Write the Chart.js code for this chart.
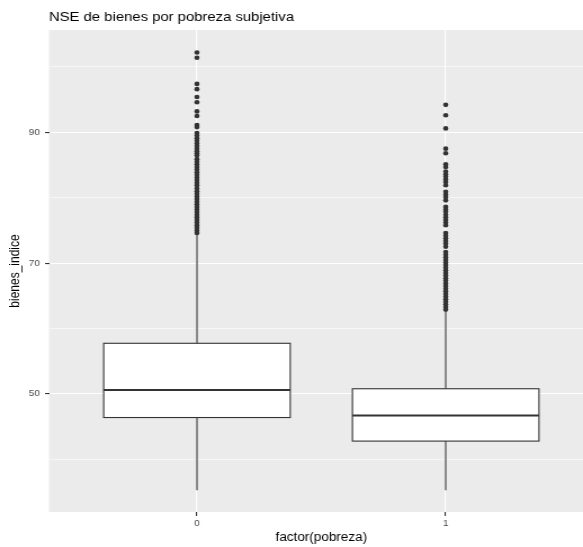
<!DOCTYPE html>
<html>
<head>
<meta charset="utf-8">
<script src="https://cdn.jsdelivr.net/npm/chart.js@4.4.1/dist/chart.umd.min.js"></script>
<style>
body { margin: 0; background: #fff; overflow: hidden; }
/* la imagen original esta algo estirada en horizontal */
#lienzo { width: 518px; height: 547px; transform: scaleX(1.12548); transform-origin: 0 0; }
</style>
</head>
<body>
<div id="lienzo"><canvas id="boxplot" width="518" height="547"></canvas></div>
<script>
var categorias = ["0", "1"]
var q1 = [46.4, 42.8]
var mediana = [50.6, 46.7]
var q3 = [57.75, 50.8]
var bigoteInf = [35.3, 35.3]
var bigoteSup = [74.6, 62.8]

var atipicos0 = [102.2, 101.4, 97.4, 96.6, 95.4, 94.6, 93.2, 92.5, 91.1, 90.8,
  89.9, 89.5, 89.1, 88.7, 88.3, 87.9, 87.5, 87.1, 86.8, 86.5,
  85.9, 85.5, 85.1, 84.7, 84.3, 83.9, 83.5, 83.1, 82.7, 82.3, 81.9,
  81.4, 81.0, 80.6, 80.2, 79.8, 79.4, 79.0, 78.6, 78.2, 77.8, 77.4, 77.0, 76.6, 76.2, 75.8, 75.4, 75.0, 74.6]
var atipicos1 = [94.2, 92.6, 90.6, 87.5, 86.8, 85.1, 84.7,
  84.0, 83.6, 83.2, 82.8, 82.4, 81.9,
  80.9, 80.5, 80.1, 79.6,
  78.6, 78.2, 77.9,
  77.4, 77.0, 76.6, 76.2, 75.8,
  74.6, 74.2, 73.8, 73.4, 73.0, 72.5,
  71.7, 71.3, 70.9, 70.5, 70.1, 69.7, 69.3, 68.9, 68.5, 68.1, 67.7, 67.3, 66.9, 66.5,
  66.1, 65.7, 65.3, 64.9, 64.5, 64.1, 63.7, 63.3, 62.9]

var ticksY = [40, 50, 60, 70, 80, 90, 100]
var ticksYMayores = [50, 70, 90]

var fuente = 'Liberation Sans'

function esMayor(ctx) {
  return ctx.tick && ticksYMayores.indexOf(ctx.tick.value) >= 0
}

// fondo gris del panel
var fondoPanel = {
  id: 'fondoPanel',
  beforeDraw: function (chart) {
    var a = chart.chartArea
    var ctx = chart.ctx
    ctx.save()
    ctx.fillStyle = '#EBEBEB'
    ctx.fillRect(a.left, a.top, a.right - a.left, a.bottom - a.top)
    ctx.restore()
  }
}

// cajas, bigotes y medianas
var cajas = {
  id: 'cajas',
  beforeDatasetsDraw: function (chart) {
    var x = chart.scales.x
    var y = chart.scales.y
    var ctx = chart.ctx
    ctx.save()
    for (var i = 0; i < categorias.length; i++) {
      var cx = x.getPixelForValue(i)
      var izq = x.getPixelForValue(i - 0.375)
      var der = x.getPixelForValue(i + 0.375)
      var arriba = y.getPixelForValue(q3[i])
      var abajo = y.getPixelForValue(q1[i])
      ctx.strokeStyle = '#333333'
      ctx.lineWidth = 1.1
      ctx.beginPath()
      ctx.moveTo(cx, arriba)
      ctx.lineTo(cx, y.getPixelForValue(bigoteSup[i]))
      ctx.moveTo(cx, abajo)
      ctx.lineTo(cx, y.getPixelForValue(bigoteInf[i]))
      ctx.stroke()
      ctx.fillStyle = '#FFFFFF'
      ctx.fillRect(izq, arriba, der - izq, abajo - arriba)
      ctx.strokeRect(izq, arriba, der - izq, abajo - arriba)
      var m = y.getPixelForValue(mediana[i])
      ctx.lineWidth = 2.1
      ctx.beginPath()
      ctx.moveTo(izq, m)
      ctx.lineTo(der, m)
      ctx.stroke()
    }
    ctx.restore()
  }
}

// titulo del grafico y titulo del eje x (centrado entre las dos categorias, como ggplot)
var textos = {
  id: 'textos',
  afterDraw: function (chart) {
    var ctx = chart.ctx
    ctx.save()
    ctx.fillStyle = '#000000'
    ctx.textAlign = 'left'
    ctx.textBaseline = 'alphabetic'
    ctx.font = '13.2px "' + fuente + '", Arial, sans-serif'
    ctx.fillText('NSE de bienes por pobreza subjetiva', chart.chartArea.left, 21)
    ctx.textAlign = 'center'
    ctx.textBaseline = 'middle'
    ctx.font = '12px "' + fuente + '", Arial, sans-serif'
    ctx.fillText('factor(pobreza)', chart.scales.x.getPixelForValue(0.5), 537.5)
    ctx.restore()
  }
}

new Chart(document.getElementById("boxplot"), {
  type: 'scatter',
  data: {
    datasets: [
      {
        label: categorias[0],
        data: atipicos0.map(function (v) { return { x: 0, y: v } }),
        backgroundColor: '#333333',
        borderWidth: 0,
        pointRadius: 2.3
      },
      {
        label: categorias[1],
        data: atipicos1.map(function (v) { return { x: 1, y: v } }),
        backgroundColor: '#333333',
        borderWidth: 0,
        pointRadius: 2.3
      }
    ]
  },
  options: {
    responsive: false,
    animation: false,
    events: [],
    layout: { autoPadding: false, padding: { top: 30, left: 0, right: 0, bottom: 0 } },
    plugins: {
      legend: { display: false },
      tooltip: { enabled: false }
    },
    scales: {
      x: {
        type: 'linear',
        min: -0.595,
        max: 1.552,
        afterBuildTicks: function (s) {
          s.ticks = categorias.map(function (c, i) { return { value: i } })
        },
        afterFit: function (s) { s.height = 35 },
        border: { display: false },
        grid: { color: '#FFFFFF', lineWidth: 1.1, tickLength: 4, tickColor: '#333333' },
        ticks: {
          callback: function (v) { return categorias[v] },
          color: '#4D4D4D',
          font: { family: fuente, size: 9 },
          padding: 2,
          maxRotation: 0
        }
      },
      y: {
        type: 'linear',
        min: 31.96,
        max: 105.64,
        afterBuildTicks: function (s) {
          s.ticks = ticksY.map(function (v) { return { value: v } })
        },
        afterFit: function (s) { s.width = 43.5 },
        border: { display: false },
        grid: {
          color: '#FFFFFF',
          lineWidth: function (ctx) { return esMayor(ctx) ? 1.1 : 0.55 },
          tickLength: 3.5,
          tickColor: function (ctx) { return esMayor(ctx) ? '#333333' : 'rgba(0,0,0,0)' }
        },
        ticks: {
          callback: function (v) { return ticksYMayores.indexOf(v) >= 0 ? String(v) : '' },
          color: '#4D4D4D',
          font: { family: fuente, size: 9 },
          padding: 4.5
        },
        title: {
          display: true,
          text: 'bienes_indice',
          color: '#000000',
          font: { family: fuente, size: 12 },
          padding: { top: 6.1, bottom: 0 }
        }
      }
    }
  },
  plugins: [fondoPanel, cajas, textos]
});
</script>
</body>
</html>
